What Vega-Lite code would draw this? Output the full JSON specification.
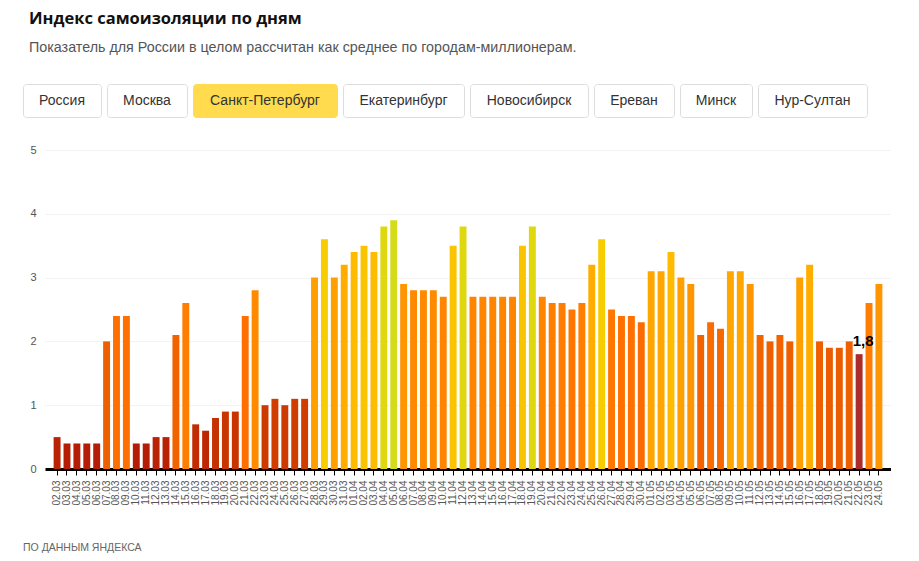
{
  "$schema": "https://vega.github.io/schema/vega-lite/v6.json",
  "description": "Индекс самоизоляции по дням, Санкт-Петербург",
  "background": "white",
  "padding": {"left": 22, "top": 10, "right": 0, "bottom": 0},
  "title": {
    "text": "Индекс самоизоляции по дням",
    "subtitle": "Показатель для России в целом рассчитан как среднее по городам-миллионерам.",
    "anchor": "start",
    "frame": "group",
    "dx": 6,
    "offset": 28,
    "font": "Open Sans",
    "fontSize": 16.5,
    "fontWeight": "bold",
    "color": "#111111",
    "subtitleFont": "Liberation Sans",
    "subtitleFontSize": 14.3,
    "subtitleColor": "#555555",
    "subtitlePadding": 14
  },
  "spacing": 66,
  "bounds": "flush",
  "config": {
    "font": "Liberation Sans",
    "text": {"font": "Liberation Sans"}
  },
  "vconcat": [
    {
      "spacing": 6,
      "bounds": "flush",
      "hconcat": [
        {"width": 78, "height": 33, "view": {"stroke": "#dddddd", "cornerRadius": 3}, "data": {"values": [{"label": "Россия"}]}, "mark": {"type": "text", "fontSize": 14, "color": "#333333"}, "encoding": {"text": {"field": "label"}}},
        {"width": 80, "height": 33, "view": {"stroke": "#dddddd", "cornerRadius": 3}, "data": {"values": [{"label": "Москва"}]}, "mark": {"type": "text", "fontSize": 14, "color": "#333333"}, "encoding": {"text": {"field": "label"}}},
        {"width": 144, "height": 33, "view": {"stroke": "#ffdb4d", "fill": "#ffdb4d", "cornerRadius": 3}, "data": {"values": [{"label": "Санкт-Петербург"}]}, "mark": {"type": "text", "fontSize": 14, "color": "#333333"}, "encoding": {"text": {"field": "label"}}},
        {"width": 121, "height": 33, "view": {"stroke": "#dddddd", "cornerRadius": 3}, "data": {"values": [{"label": "Екатеринбург"}]}, "mark": {"type": "text", "fontSize": 14, "color": "#333333"}, "encoding": {"text": {"field": "label"}}},
        {"width": 118, "height": 33, "view": {"stroke": "#dddddd", "cornerRadius": 3}, "data": {"values": [{"label": "Новосибирск"}]}, "mark": {"type": "text", "fontSize": 14, "color": "#333333"}, "encoding": {"text": {"field": "label"}}},
        {"width": 80, "height": 33, "view": {"stroke": "#dddddd", "cornerRadius": 3}, "data": {"values": [{"label": "Ереван"}]}, "mark": {"type": "text", "fontSize": 14, "color": "#333333"}, "encoding": {"text": {"field": "label"}}},
        {"width": 72, "height": 33, "view": {"stroke": "#dddddd", "cornerRadius": 3}, "data": {"values": [{"label": "Минск"}]}, "mark": {"type": "text", "fontSize": 14, "color": "#333333"}, "encoding": {"text": {"field": "label"}}},
        {"width": 109, "height": 33, "view": {"stroke": "#dddddd", "cornerRadius": 3}, "data": {"values": [{"label": "Нур-Султан"}]}, "mark": {"type": "text", "fontSize": 14, "color": "#333333"}, "encoding": {"text": {"field": "label"}}}
      ]
    },
    {
      "spacing": 0,
      "bounds": "flush",
      "hconcat": [
        {"width": 22, "height": 319, "view": {"stroke": null}, "data": {"values": [{"label": ""}]}, "mark": {"type": "text"}, "encoding": {"text": {"field": "label"}}},
        {
          "width": 846,
          "height": 319,
          "view": {"stroke": null},
          "title": {
            "text": "ПО ДАННЫМ ЯНДЕКСА",
            "orient": "bottom",
            "anchor": "start",
            "frame": "group",
            "dx": -22,
            "offset": 38,
            "font": "Liberation Sans",
            "fontSize": 10.5,
            "fontWeight": "normal",
            "color": "#666666"
          },
          "data": {
            "values": [
              {"date": "02.03", "value": 0.5}, {"date": "03.03", "value": 0.4}, {"date": "04.03", "value": 0.4},
              {"date": "05.03", "value": 0.4}, {"date": "06.03", "value": 0.4}, {"date": "07.03", "value": 2.0},
              {"date": "08.03", "value": 2.4}, {"date": "09.03", "value": 2.4}, {"date": "10.03", "value": 0.4},
              {"date": "11.03", "value": 0.4}, {"date": "12.03", "value": 0.5}, {"date": "13.03", "value": 0.5},
              {"date": "14.03", "value": 2.1}, {"date": "15.03", "value": 2.6}, {"date": "16.03", "value": 0.7},
              {"date": "17.03", "value": 0.6}, {"date": "18.03", "value": 0.8}, {"date": "19.03", "value": 0.9},
              {"date": "20.03", "value": 0.9}, {"date": "21.03", "value": 2.4}, {"date": "22.03", "value": 2.8},
              {"date": "23.03", "value": 1.0}, {"date": "24.03", "value": 1.1}, {"date": "25.03", "value": 1.0},
              {"date": "26.03", "value": 1.1}, {"date": "27.03", "value": 1.1}, {"date": "28.03", "value": 3.0},
              {"date": "29.03", "value": 3.6}, {"date": "30.03", "value": 3.0}, {"date": "31.03", "value": 3.2},
              {"date": "01.04", "value": 3.4}, {"date": "02.04", "value": 3.5}, {"date": "03.04", "value": 3.4},
              {"date": "04.04", "value": 3.8}, {"date": "05.04", "value": 3.9}, {"date": "06.04", "value": 2.9},
              {"date": "07.04", "value": 2.8}, {"date": "08.04", "value": 2.8}, {"date": "09.04", "value": 2.8},
              {"date": "10.04", "value": 2.7}, {"date": "11.04", "value": 3.5}, {"date": "12.04", "value": 3.8},
              {"date": "13.04", "value": 2.7}, {"date": "14.04", "value": 2.7}, {"date": "15.04", "value": 2.7},
              {"date": "16.04", "value": 2.7}, {"date": "17.04", "value": 2.7}, {"date": "18.04", "value": 3.5},
              {"date": "19.04", "value": 3.8}, {"date": "20.04", "value": 2.7}, {"date": "21.04", "value": 2.6},
              {"date": "22.04", "value": 2.6}, {"date": "23.04", "value": 2.5}, {"date": "24.04", "value": 2.6},
              {"date": "25.04", "value": 3.2}, {"date": "26.04", "value": 3.6}, {"date": "27.04", "value": 2.5},
              {"date": "28.04", "value": 2.4}, {"date": "29.04", "value": 2.4}, {"date": "30.04", "value": 2.3},
              {"date": "01.05", "value": 3.1}, {"date": "02.05", "value": 3.1}, {"date": "03.05", "value": 3.4},
              {"date": "04.05", "value": 3.0}, {"date": "05.05", "value": 2.9}, {"date": "06.05", "value": 2.1},
              {"date": "07.05", "value": 2.3}, {"date": "08.05", "value": 2.2}, {"date": "09.05", "value": 3.1},
              {"date": "10.05", "value": 3.1}, {"date": "11.05", "value": 2.9}, {"date": "12.05", "value": 2.1},
              {"date": "13.05", "value": 2.0}, {"date": "14.05", "value": 2.1}, {"date": "15.05", "value": 2.0},
              {"date": "16.05", "value": 3.0}, {"date": "17.05", "value": 3.2}, {"date": "18.05", "value": 2.0},
              {"date": "19.05", "value": 1.9}, {"date": "20.05", "value": 1.9}, {"date": "21.05", "value": 2.0},
              {"date": "22.05", "value": 1.8}, {"date": "23.05", "value": 2.6}, {"date": "24.05", "value": 2.9}
            ]
          },
          "encoding": {
            "x": {
              "field": "date",
              "type": "nominal",
              "sort": null,
              "title": null,
              "scale": {"paddingInner": 0.3, "paddingOuter": 0.87},
              "axis": {
                "labelAngle": -90,
                "labelFont": "Liberation Sans",
                "labelFontSize": 10,
                "labelColor": "#555555",
                "labelOverlap": false,
                "labelPadding": 5,
                "tickColor": "#000000",
                "tickSize": 6,
                "tickWidth": 1,
                "domainColor": "#000000",
                "domainWidth": 3,
                "grid": false
              }
            },
            "y": {
              "field": "value",
              "type": "quantitative",
              "title": null,
              "scale": {"domain": [0, 5]},
              "axis": {
                "values": [0, 1, 2, 3, 4, 5],
                "format": "d",
                "domain": false,
                "ticks": false,
                "labelPadding": 9,
                "labelFont": "Liberation Sans",
                "labelFontSize": 11,
                "labelColor": "#555555",
                "gridColor": "#f3f3f3"
              }
            }
          },
          "layer": [
            {
              "mark": {"type": "bar", "clip": false},
              "encoding": {
                "color": {
                  "condition": {"test": "datum.date === '22.05'", "value": "#ab2c2a"},
                  "field": "value",
                  "type": "quantitative",
                  "legend": null,
                  "scale": {
                    "domain": [0.4, 1, 2, 2.4, 2.8, 3, 3.4, 3.6, 3.8, 3.9],
                    "range": ["#b51c05", "#cc3a00", "#ee5f00", "#ff7000", "#ff8a00", "#ffa000", "#ffbb00", "#f7cc00", "#e0d80e", "#d4dc1a"]
                  }
                }
              }
            },
            {
              "data": {"values": [{"date": "22.05", "value": 1.8, "label": "1,8"}]},
              "mark": {"type": "text", "font": "Liberation Sans", "fontSize": 15, "fontWeight": "bold", "color": "#000000", "baseline": "bottom", "dx": 4, "dy": -5},
              "encoding": {"text": {"field": "label"}}
            }
          ]
        }
      ]
    }
  ]
}
